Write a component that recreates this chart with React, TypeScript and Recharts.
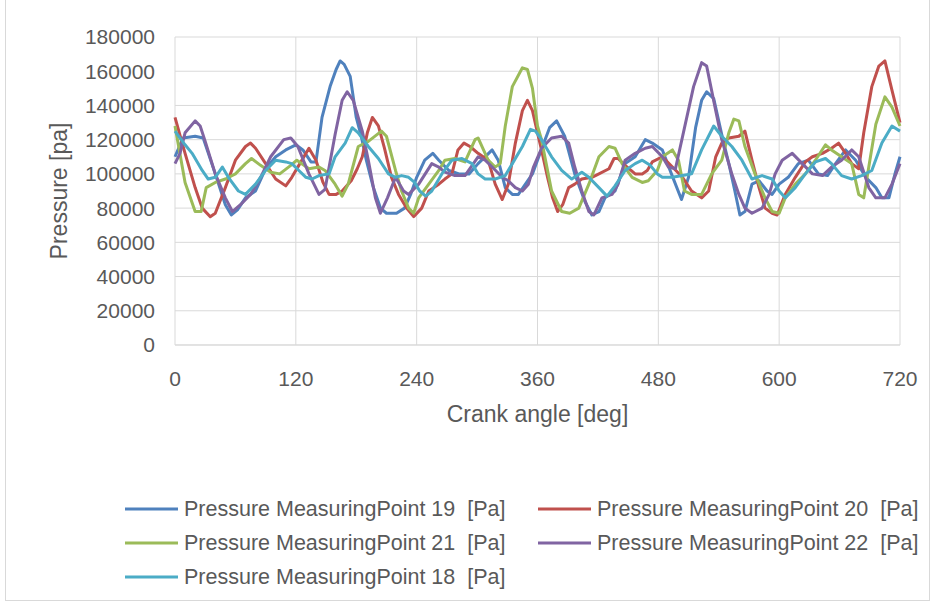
import React from 'react';
import { LineChart, Line, XAxis, YAxis, CartesianGrid } from 'recharts';

const FONT = "'Liberation Sans', Arial, sans-serif";
const TEXT = '#595959';
const GRID = '#d9d9d9';

const crankAngleTicks = [0, 120, 240, 360, 480, 600, 720];
const pressureTicks = [0, 20000, 40000, 60000, 80000, 100000, 120000, 140000, 160000, 180000];

// [crank angle deg, pressure Pa]
const mp19: [number, number][] = [
  [0,110000],[8,121000],[20,122000],[28,121000],[40,100000],[50,82000],[56,76000],[62,79000],[70,86000],[80,90000],
  [90,103000],[100,110000],[110,114000],[120,117000],[127,114000],[135,107000],[140,107000],[146,133000],[154,151000],[160,161000],
  [164,166000],[168,164000],[174,157000],[180,133000],[185,122000],[190,108000],[197,92000],[204,80000],[210,77000],[220,77000],
  [228,80000],[234,88000],[240,98000],[248,108000],[256,112000],[262,108000],[272,102000],[282,100000],[292,100000],[301,106000],
  [315,114000],[321,108000],[328,92000],[335,88000],[341,88000],[348,94000],[355,100000],[365,116000],[372,127000],[379,131000],
  [387,122000],[397,100000],[407,84000],[414,76000],[421,78000],[427,86000],[437,90000],[447,106000],[457,110000],[467,120000],
  [474,118000],[484,114000],[493,100000],[503,85000],[510,98000],[517,127000],[523,143000],[528,148000],[535,144000],[543,123000],
  [550,106000],[556,90000],[561,76000],[566,78000],[573,94000],[580,96000],[588,90000],[593,88000],[600,94000],[609,98000],
  [619,106000],[629,108000],[639,100000],[648,99000],[656,106000],[666,114000],[676,108000],[686,98000],[696,92000],[702,86000],
  [709,86000],[715,100000],[720,110000],
];

const mp20: [number, number][] = [
  [0,133000],[10,112000],[20,92000],[27,80000],[35,75000],[40,77000],[50,92000],[60,108000],[70,116000],[75,118000],
  [80,115000],[90,106000],[100,97000],[110,93000],[116,98000],[124,106000],[133,115000],[140,108000],[147,95000],[153,88000],
  [160,88000],[166,90000],[175,96000],[181,103000],[186,110000],[191,124000],[196,133000],[202,128000],[208,115000],[215,98000],
  [222,88000],[230,80000],[237,75000],[245,80000],[252,90000],[262,94000],[268,97000],[275,100000],[281,114000],[287,118000],
  [293,116000],[301,112000],[311,108000],[318,94000],[325,85000],[331,94000],[338,118000],[345,137000],[350,143000],[355,137000],
  [360,124000],[364,114000],[370,98000],[375,86000],[380,78000],[385,82000],[391,92000],[397,94000],[404,97000],[414,98000],
  [421,100000],[431,103000],[436,109000],[440,109000],[447,105000],[457,100000],[464,100000],[469,102000],[474,107000],[484,110000],
  [494,104000],[504,98000],[513,90000],[523,86000],[530,90000],[537,110000],[543,118000],[550,121000],[560,122000],[566,125000],
  [573,108000],[580,92000],[586,80000],[593,77000],[598,76000],[606,88000],[616,98000],[626,107000],[633,110000],[643,112000],
  [652,115000],[659,118000],[666,112000],[672,106000],[679,103000],[684,124000],[692,151000],[699,163000],[705,166000],[712,149000],
  [720,130000],
];

const mp21: [number, number][] = [
  [0,128000],[10,95000],[20,78000],[26,78000],[31,92000],[40,95000],[50,97000],[60,100000],[70,106000],[76,109000],
  [85,105000],[95,101000],[104,100000],[115,105000],[121,108000],[133,103000],[143,104000],[149,102000],[159,94000],[166,87000],
  [172,94000],[182,116000],[192,119000],[205,125000],[210,122000],[219,102000],[225,90000],[232,80000],[237,77000],[242,86000],
  [252,94000],[262,102000],[268,108000],[278,109000],[288,107000],[298,120000],[301,121000],[311,108000],[318,104000],[323,106000],
  [328,128000],[335,151000],[345,162000],[350,161000],[355,150000],[360,128000],[364,120000],[374,90000],[384,78000],[392,77000],
  [401,80000],[411,94000],[421,110000],[431,116000],[437,115000],[444,106000],[454,98000],[464,95000],[470,96000],[479,102000],
  [484,110000],[494,114000],[500,108000],[506,90000],[513,88000],[523,88000],[533,100000],[543,108000],[550,124000],[555,132000],
  [560,131000],[566,116000],[576,100000],[586,86000],[593,78000],[600,77000],[606,86000],[616,94000],[626,100000],[636,108000],
  [646,117000],[652,114000],[662,110000],[672,106000],[679,88000],[684,86000],[689,104000],[696,129000],[705,145000],[712,139000],
  [720,128000],
];

const mp22: [number, number][] = [
  [0,106000],[5,112000],[10,124000],[20,131000],[25,128000],[30,119000],[40,100000],[50,86000],[57,78000],[65,82000],
  [75,88000],[85,98000],[95,110000],[108,120000],[115,121000],[122,116000],[133,100000],[143,88000],[149,91000],[159,123000],
  [166,143000],[171,148000],[177,143000],[186,125000],[192,108000],[199,86000],[204,77000],[211,86000],[219,98000],[227,90000],
  [232,88000],[242,94000],[255,106000],[262,104000],[268,101000],[278,99000],[288,99000],[301,110000],[308,108000],[315,104000],
  [325,98000],[331,96000],[338,92000],[345,90000],[351,94000],[356,104000],[364,115000],[374,121000],[384,122000],[391,118000],
  [397,104000],[404,90000],[411,78000],[416,76000],[424,86000],[434,88000],[440,94000],[447,108000],[457,112000],[467,115000],
  [474,116000],[484,110000],[490,104000],[497,103000],[506,127000],[515,151000],[523,165000],[528,163000],[537,137000],[543,120000],
  [553,100000],[560,88000],[566,80000],[573,77000],[583,80000],[590,88000],[596,100000],[603,108000],[613,112000],[623,106000],
  [633,100000],[643,99000],[652,104000],[662,108000],[672,114000],[679,110000],[689,92000],[696,86000],[705,86000],[712,94000],
  [720,106000],
];

const mp18: [number, number][] = [
  [0,125000],[10,117000],[17,112000],[27,102000],[33,97000],[40,98000],[47,104000],[53,98000],[63,90000],[70,88000],
  [80,94000],[90,102000],[100,108000],[110,107000],[116,106000],[123,102000],[130,98000],[136,97000],[143,99000],[153,100000],
  [159,110000],[169,118000],[176,127000],[182,124000],[192,116000],[202,109000],[212,100000],[219,98000],[225,99000],[232,98000],
  [238,95000],[243,90000],[249,87000],[255,90000],[265,100000],[275,108000],[285,109000],[295,106000],[301,100000],[308,97000],
  [318,97000],[328,99000],[335,106000],[345,116000],[353,126000],[358,125000],[364,120000],[374,110000],[384,102000],[394,97000],
  [404,101000],[411,98000],[421,92000],[429,87000],[437,93000],[447,102000],[457,106000],[464,108000],[472,105000],[479,100000],
  [484,98000],[494,98000],[504,99000],[513,100000],[523,114000],[535,128000],[543,122000],[553,116000],[563,108000],[573,97000],
  [583,99000],[593,97000],[600,90000],[606,86000],[616,92000],[626,100000],[636,107000],[646,109000],[652,106000],[662,99000],
  [672,97000],[682,99000],[692,102000],[702,118000],[712,128000],[720,125000],
];

const seriesList = [
  { name: 'Pressure MeasuringPoint 19  [Pa]', color: '#4F81BD', points: mp19 },
  { name: 'Pressure MeasuringPoint 20  [Pa]', color: '#C0504D', points: mp20 },
  { name: 'Pressure MeasuringPoint 21  [Pa]', color: '#9BBB59', points: mp21 },
  { name: 'Pressure MeasuringPoint 22  [Pa]', color: '#8064A2', points: mp22 },
  { name: 'Pressure MeasuringPoint 18  [Pa]', color: '#4BACC6', points: mp18 },
];

const toRows = (pts: [number, number][]) => pts.map(([deg, p]) => ({ deg, p }));

const legendLayout = [
  { col: 0, row: 0 },
  { col: 1, row: 0 },
  { col: 0, row: 1 },
  { col: 1, row: 1 },
  { col: 0, row: 2 },
];

export default function App() {
  return (
    <div style={{ position: 'absolute', left: 0, top: 0, width: 934, height: 605, background: '#fff', fontFamily: FONT }}>
      <div style={{ position: 'absolute', left: 5, top: -1, width: 925, height: 602, border: `1px solid ${GRID}`, boxSizing: 'border-box' }} />
      <div style={{ position: 'absolute', left: 0, top: 0 }}>
        <LineChart width={934} height={605} margin={{ top: 37, right: 34, left: 0, bottom: 230 }}>
          <CartesianGrid stroke={GRID} strokeWidth={1} />
          <XAxis
            dataKey="deg"
            type="number"
            domain={[0, 720]}
            ticks={crankAngleTicks}
            allowDuplicatedCategory={false}
            height={30}
            tickLine={false}
            axisLine={{ stroke: GRID }}
            tickMargin={20}
            tick={{ fill: TEXT, fontSize: 21, fontFamily: FONT }}
            label={{
              content: (props: any) => {
                const vb = props.viewBox || { x: 175, y: 345, width: 725, height: 30 };
                return (
                  <text x={vb.x + vb.width / 2} y={vb.y + 69} textAnchor="middle" dominantBaseline="central" fill={TEXT} fontSize={23} fontFamily={FONT}>
                    Crank angle [deg]
                  </text>
                );
              },
            }}
          />
          <YAxis
            type="number"
            domain={[0, 180000]}
            ticks={pressureTicks}
            width={175}
            tickLine={false}
            axisLine={false}
            tickMargin={14}
            tick={{ fill: TEXT, fontSize: 21, fontFamily: FONT }}
            label={{
              content: (props: any) => {
                const vb = props.viewBox || { x: 0, y: 37, width: 175, height: 308 };
                const cy = vb.y + vb.height / 2;
                return (
                  <text x={59} y={cy} transform={`rotate(-90, 59, ${cy})`} textAnchor="middle" dominantBaseline="central" fill={TEXT} fontSize={23} fontFamily={FONT}>
                    Pressure [pa]
                  </text>
                );
              },
            }}
          />
          {seriesList.map((s) => (
            <Line
              key={s.name}
              data={toRows(s.points)}
              dataKey="p"
              name={s.name}
              type="linear"
              stroke={s.color}
              strokeWidth={3}
              strokeLinejoin="round"
              dot={false}
              activeDot={false}
              isAnimationActive={false}
            />
          ))}
        </LineChart>
      </div>
      <svg width={934} height={605} style={{ position: 'absolute', left: 0, top: 0, pointerEvents: 'none' }}>
        {seriesList.map((s, i) => {
          const { col, row } = legendLayout[i];
          const x0 = col === 0 ? 125 : 538;
          const y = 509 + row * 34;
          return (
            <g key={s.name}>
              <line x1={x0} x2={x0 + 53} y1={y} y2={y} stroke={s.color} strokeWidth={3} />
              <text x={x0 + 59} y={y} dominantBaseline="central" fill={TEXT} fontSize={21.5} fontFamily={FONT} style={{ whiteSpace: 'pre' }}>
                {s.name}
              </text>
            </g>
          );
        })}
      </svg>
    </div>
  );
}
